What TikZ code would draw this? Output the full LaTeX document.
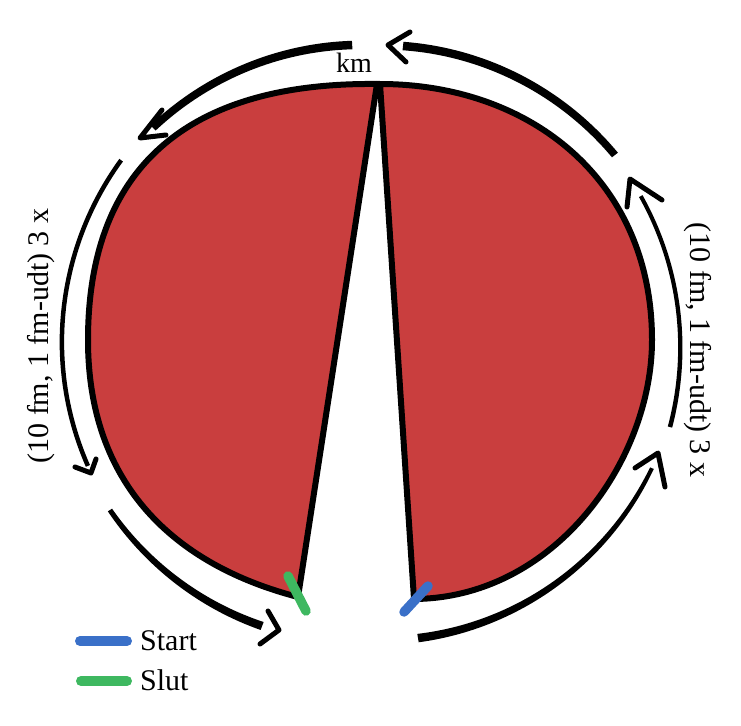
\documentclass[tikz,border=0pt]{standalone}
\usepackage{fontspec}
\setmainfont{Liberation Serif}
\definecolor{fillred}{RGB}{201,62,62}
\definecolor{mkblue}{RGB}{58,112,200}
\definecolor{mkgreen}{RGB}{62,184,96}
% tapered arc round the centre (370,345): #1,#2 angles, #3,#4 radii, #5,#6 widths
\newcommand{\taperarc}[6]{%
  \fill plot[domain=#1:#2, samples=60, variable=\t]
    ({370+((#3)+((#4)-(#3))*(\t-(#1))/((#2)-(#1))+((#5)+((#6)-(#5))*(\t-(#1))/((#2)-(#1)))/2)*cos(\t)},
     {345+((#3)+((#4)-(#3))*(\t-(#1))/((#2)-(#1))+((#5)+((#6)-(#5))*(\t-(#1))/((#2)-(#1)))/2)*sin(\t)})
  -- plot[domain=#2:#1, samples=60, variable=\t]
    ({370+((#3)+((#4)-(#3))*(\t-(#1))/((#2)-(#1))-((#5)+((#6)-(#5))*(\t-(#1))/((#2)-(#1)))/2)*cos(\t)},
     {345+((#3)+((#4)-(#3))*(\t-(#1))/((#2)-(#1))-((#5)+((#6)-(#5))*(\t-(#1))/((#2)-(#1)))/2)*sin(\t)})
  -- cycle;}
\begin{document}
\begin{tikzpicture}[x=1pt,y=-1pt,
  half/.style={fill=fillred, draw=black, line width=6pt, line join=miter},
  chev/.style={draw=black, line width=5pt, line cap=round, line join=round},
  marker/.style={line width=9.5pt, line cap=round},
  lbl/.style={font=\fontsize{30}{36}\selectfont, inner sep=0pt}]
\useasboundingbox (0,0) rectangle (741,725);

% left half
\draw[half] (377,84) -- (298,597)
  .. controls (175,565) and (88,485) .. (88,340)
  .. controls (88,170) and (185,82) .. (377,84) -- cycle;
% right half
\draw[half] (380,84) -- (414,599)
  .. controls (555,598) and (652,460) .. (652,340)
  .. controls (652,180) and (530,84) .. (380,84) -- cycle;

% outer arcs
\taperarc{266.6}{225}{300.5}{307}{8.5}{7.5}
\taperarc{276.3}{322.2}{300.8}{310}{8.5}{7.5}
\taperarc{216.6}{156.8}{310}{306.9}{4.5}{4.5}
\taperarc{147.6}{111}{308}{301}{5}{8.5}
\taperarc{80.7}{23.6}{297}{307.7}{8.5}{4}
\taperarc{15.3}{-28.8}{311}{309}{4.5}{4}

% chevron heads
\draw[chev] (162,110) -- (140,138) -- (166,135);
\draw[chev] (410,32) -- (388,45) -- (406,62);
\draw[chev] (75,467) -- (91,473) -- (96,459);
\draw[chev] (268,611) -- (279,630) -- (260,644);
\draw[chev] (635,468) -- (658,453) -- (665,487);
\draw[chev] (627,207) -- (630,179) -- (662,200);

% markers
\draw[marker, mkgreen] (288,576) -- (306,611);
\draw[marker, mkblue] (428,586) -- (404,612);

% labels
\node[lbl, font=\fontsize{28}{34}\selectfont, anchor=base] (km) at (354,73) {km};
\node[lbl, anchor=base, rotate=90] (leftlbl) at (48,336) {(10 fm, 1 fm-udt) 3 x};
\node[lbl, anchor=base, rotate=-90] (rightlbl) at (690,350) {(10 fm, 1 fm-udt) 3 x};

% legend
\draw[marker, line width=10pt, mkblue] (80,641) -- (127,641);
\draw[marker, line width=10pt, mkgreen] (81,681) -- (127,681);
\node[lbl, anchor=base west] (start) at (140,650) {Start};
\node[lbl, anchor=base west] (slut) at (140,690) {Slut};
\end{tikzpicture}
\end{document}
